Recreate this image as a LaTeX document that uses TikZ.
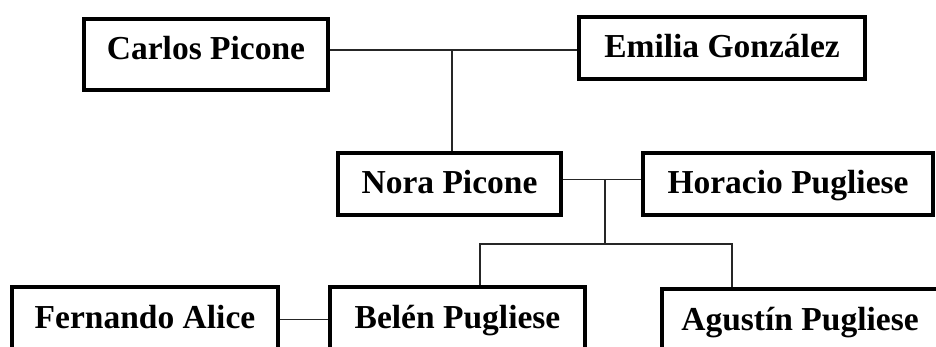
\documentclass[tikz,border=0pt]{standalone}
\usepackage{fontspec}
\setmainfont{Liberation Serif}
\begin{document}
\begin{tikzpicture}[x=1pt,y=-1pt,
  person/.style={draw=black, line width=4pt, fill=white, inner sep=0pt,
    minimum height=62pt, text height=22pt, text depth=2pt,
    font=\fontsize{33.5}{40}\selectfont\bfseries},
  link/.style={draw=black!85, line width=1.3pt}]
\useasboundingbox (0,0) rectangle (936,347);

% first generation
\node[person, minimum width=244pt, minimum height=71pt, text depth=11pt] (carlos) at (206,54.5) {Carlos Picone};
\node[person, minimum width=286pt] (emilia) at (722,48) {Emilia González};

% second generation
\node[person, minimum width=223pt] (nora) at (449.5,184) {Nora Picone};
\node[person, minimum width=290pt] (horacio) at (788,184) {Horacio Pugliese};

% third generation
\node[person, minimum width=266pt] (fernando) at (145,318) {Fernando Alice};
\node[person, minimum width=255pt] (belen) at (457.5,318) {Belén Pugliese};
\node[person, minimum width=276pt] (agustin) at (800,320) {Agustín Pugliese};

% junction points of the family lines
\coordinate (m1) at (452,50);
\coordinate (m2) at (605,179.5);
\coordinate (m3) at (605,244);
\coordinate (b1) at (480,244);
\coordinate (a1) at (732,244);
\coordinate (m4) at (300,319.5);

% couples
\draw[link] (carlos.east |- m1) -- (emilia.west |- m1);
\draw[link] (nora.east |- m2) -- (horacio.west |- m2);
\draw[link] (fernando.east |- m4) -- (belen.west |- m4);

% descent
\draw[link] (m1) -- (m1 |- nora.north);
\draw[link] (m2) -- (m3);
\draw[link] (b1 |- belen.north) -- (b1) -- (a1) -- (a1 |- agustin.north);
\end{tikzpicture}
\end{document}
